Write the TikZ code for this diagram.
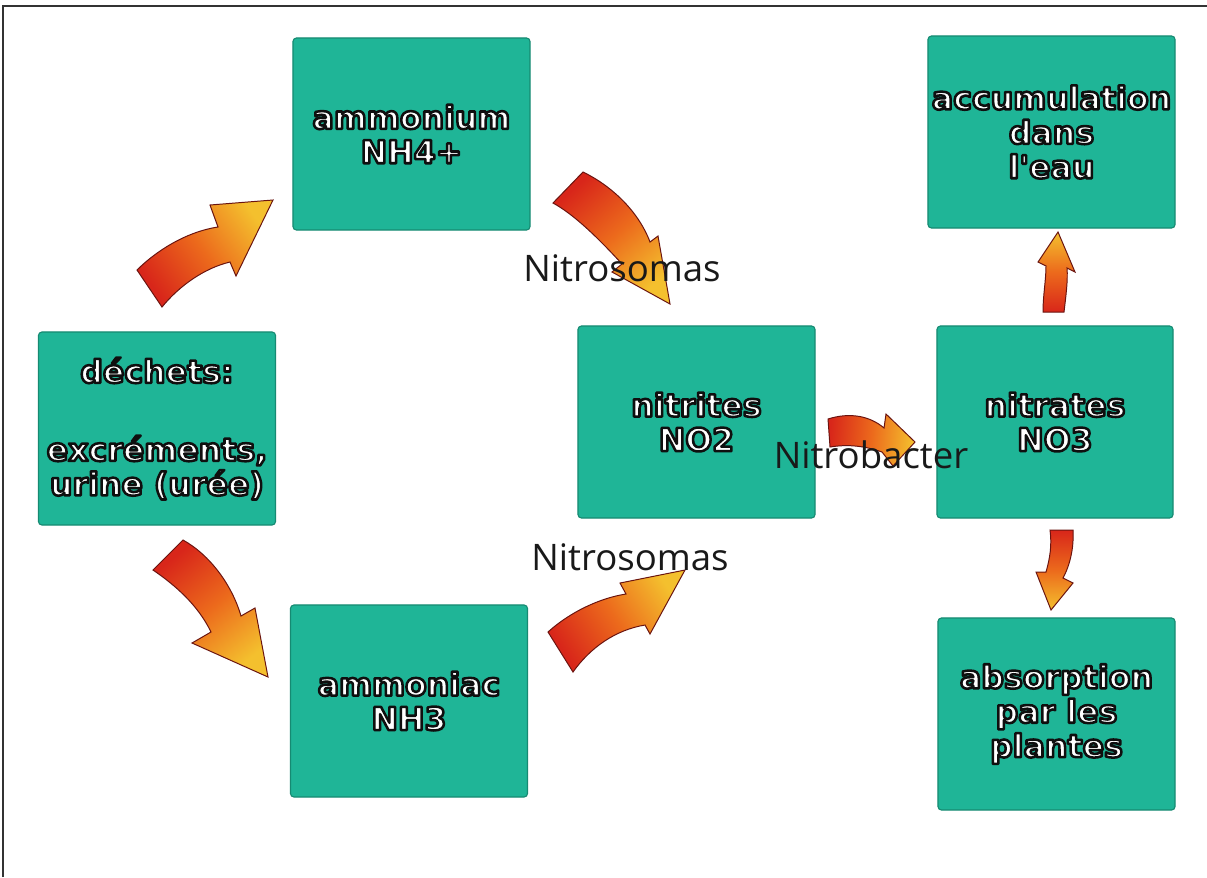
\documentclass[tikz,border=0pt]{standalone}
\usepackage{fontspec}
\newfontfamily\boxfont{DejaVu Sans}
\newfontfamily\labfont{Open Sans}
\definecolor{teal1}{HTML}{1FB597}
\definecolor{teal2}{HTML}{168A72}
\definecolor{arrR}{HTML}{D8261A}
\definecolor{arrO}{HTML}{EC6A1C}
\definecolor{arrY}{HTML}{F4C02E}
\definecolor{arrD}{HTML}{6A1410}
\newcommand\wt[1]{{\color{white}\special{pdf:literal direct 0.06 0.06 0.06 RG 1.8 w 1 j 2 Tr}#1\special{pdf:literal direct 0 Tr}}}
\begin{document}
\begin{tikzpicture}[x=0.025cm,y=-0.025cm,
  box/.style={fill=teal1, draw=teal2, line width=0.8pt, rounded corners=2.5pt,
    minimum width=5.925cm, minimum height=4.8cm, inner sep=0pt,
    font=\boxfont\bfseries\fontsize{22.5}{24.5}\selectfont, align=center},
  lab/.style={font=\labfont\fontsize{26}{30}\selectfont, text=black!90, inner sep=0pt},
  arr/.style={draw=arrD, line width=0.7pt, top color=arrY, bottom color=arrR, middle color=arrO},
]
\useasboundingbox (0,0) rectangle (1207,877);
\fill[white] (0,0) rectangle (1207,877);
\draw[line width=1.4pt, black!80] (3,877) -- (3,6) -- (1207,6);

% boxes
\node[box] (amm) at (411.5,134) {\wt{ammonium}\\\wt{NH4+}};
\node[box, minimum height=4.825cm] (dech) at (157,428.5) {\wt{déchets:}\\[31pt]\wt{excréments,}\\\wt{urine (urée)}};
\node[box] (nitri) at (696.5,422) {\wt{nitrites}\\\wt{NO2}};
\node[box, minimum width=5.9cm] (nitra) at (1055,422) {\wt{nitrates}\\\wt{NO3}};
\node[box, minimum width=6.175cm] (accu) at (1051.5,132) {\wt{accumulation}\\\wt{dans}\\\wt{l'eau}};
\node[box] (abso) at (1056.5,714) {\wt{absorption}\\\wt{par les}\\\wt{plantes}};
\node[box] (ammc) at (409,701) {\wt{ammoniac}\\\wt{NH3}};

% arrows
\path[arr, shading angle=-54] (137,270) .. controls (155,252) and (185,232) .. (218,227)
  -- (210,205) -- (273,200) -- (236,276) -- (230,262)
  .. controls (205,268) and (180,285) .. (162,307) -- cycle;
\path[arr, shading angle=-139] (553,203) .. controls (575,215) and (600,240) .. (622,264)
  -- (612,272) -- (670,304) -- (658,236) -- (650,242)
  .. controls (638,210) and (610,185) .. (583,172) -- cycle;
\path[arr, shading angle=-141] (153,570) .. controls (175,585) and (198,605) .. (211,632)
  -- (192,643) -- (268,677) -- (255,608) -- (241,616)
  .. controls (232,585) and (210,555) .. (183,540) -- cycle;
\path[arr, shading angle=-57] (548,632) .. controls (570,612) and (600,598) .. (626,594)
  -- (620,583) -- (685,570) -- (650,634) -- (645,625)
  .. controls (615,630) and (590,648) .. (573,672) -- cycle;
\path[arr, shading angle=-95] (828,419) .. controls (850,412) and (870,416) .. (884,428)
  -- (886,414) -- (915,442) -- (893,466) -- (882,452)
  .. controls (865,446) and (848,444) .. (830,447) -- cycle;
\path[arr, shading angle=0] (1064,312) .. controls (1066,295) and (1068,280) .. (1067,268)
  -- (1075,272) -- (1058,232) -- (1038,262) -- (1046,266)
  .. controls (1046,280) and (1043,295) .. (1043,312) -- cycle;
\path[arr, shading angle=180] (1050,530) .. controls (1052,545) and (1050,558) .. (1046,572)
  -- (1036,572) -- (1051,610) -- (1073,583) -- (1063,578)
  .. controls (1070,565) and (1074,548) .. (1073,530) -- cycle;

% labels
\node[lab] (ns1) at (622,268) {Nitrosomas};
\node[lab] (ns2) at (630,557) {Nitrosomas};
\node[lab] (nb) at (871,455) {Nitrobacter};
\end{tikzpicture}
\end{document}
